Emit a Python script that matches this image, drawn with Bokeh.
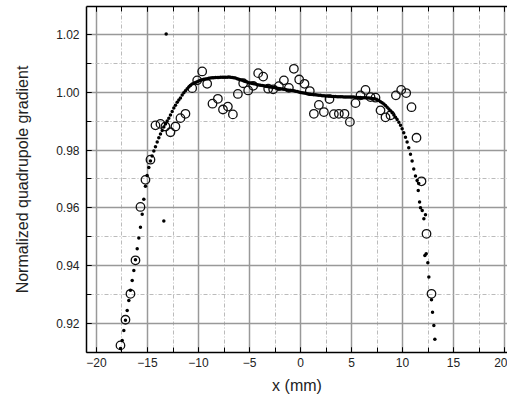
from bokeh.plotting import figure
from bokeh.models import (ColumnDataSource, SingleIntervalTicker, LinearAxis,
                          PrintfTickFormatter, Range1d, CustomJSTickFormatter)
from bokeh.embed import file_html
from bokeh.resources import INLINE

# measured (open circles)
meas_x = [-17.65, -17.16, -16.67, -16.18, -15.69, -15.20, -14.71, -14.22, -13.73, -13.24,
          -12.75, -12.26, -11.77, -11.28, -10.62, -10.13, -9.64, -9.15, -8.63, -8.10,
          -7.60, -7.12, -6.63, -6.14, -5.62, -5.13, -4.64, -4.15, -3.66, -3.17,
          -2.68, -2.12, -1.63, -1.14, -0.65, -0.13, 0.39, 0.91, 1.31, 1.80,
          2.29, 2.84, 3.27, 3.76, 4.31, 4.84, 5.39, 5.88, 6.37, 6.86,
          7.35, 7.84, 8.33, 8.82, 9.35, 9.87, 10.36, 10.88, 11.37, 11.86,
          12.35, 12.84]
meas_y = [0.9123, 0.9212, 0.9302, 0.9418, 0.9603, 0.9697, 0.9767, 0.9886, 0.9891, 0.9882,
          0.9862, 0.9882, 0.9911, 0.9926, 1.0015, 1.0042, 1.0073, 1.0030, 0.9961, 0.9978,
          0.9941, 0.9951, 0.9924, 0.9995, 1.0032, 1.0007, 1.0023, 1.0067, 1.0055, 1.0013,
          1.0011, 1.0022, 1.0042, 1.0016, 1.0082, 1.0045, 1.0030, 1.0005, 0.9926, 0.9957,
          0.9932, 0.9977, 0.9925, 0.9926, 0.9926, 0.9898, 0.9963, 0.9990, 1.0009, 0.9984,
          0.9982, 0.9938, 0.9914, 0.9921, 0.9990, 1.0009, 0.9998, 0.9949, 0.9843, 0.9692,
          0.9510, 0.9302]

# simulated (small dots)
sim_x = [-17.65, -17.48, -17.32, -17.16, -16.99, -16.83, -16.67, -16.50, -16.34, -16.18,
         -16.01, -15.85, -15.69, -15.52, -15.36, -15.20, -15.04, -14.87, -14.71, -14.55,
         -14.38, -14.22, -14.05, -13.89, -13.73, -13.56, -13.40, -13.24, -13.07, -12.91,
         -12.75, -12.58, -12.42, -12.26, -12.09, -11.93, -11.77, -11.60, -11.44, -11.28,
         -11.11, -10.95, -10.79, -10.62, -10.46, -10.30, -10.13, -9.97, -9.81, -9.64,
         -9.48, -9.32, -9.15, -8.99, -8.83, -8.66, -8.50, -8.34, -8.17, -8.01,
         -7.85, -7.68, -7.52, -7.36, -7.19, -7.03, -6.87, -6.70, -6.54, -6.38,
         -6.21, -6.05, -5.89, -5.72, -5.56, -5.40, -5.23, -5.07, -4.91, -4.74,
         -4.58, -4.42, -4.25, -4.09, -3.93, -3.76, -3.60, -3.44, -3.27, -3.11,
         -2.95, -2.78, -2.62, -2.46, -2.29, -2.13, -1.97, -1.80, -1.64, -1.48,
         -1.31, -1.15, -0.99, -0.82, -0.66, -0.50, -0.33, -0.17, 0.00, 0.16,
         0.33, 0.49, 0.65, 0.82, 0.98, 1.14, 1.31, 1.47, 1.63, 1.80,
         1.96, 2.12, 2.29, 2.45, 2.61, 2.78, 2.94, 3.10, 3.27, 3.43,
         3.59, 3.76, 3.92, 4.08, 4.25, 4.41, 4.57, 4.74, 4.90, 5.06,
         5.23, 5.39, 5.55, 5.72, 5.88, 6.04, 6.21, 6.37, 6.53, 6.70,
         6.86, 7.02, 7.19, 7.35, 7.51, 7.68, 7.84, 8.00, 8.17, 8.33,
         8.49, 8.66, 8.82, 8.98, 9.15, 9.31, 9.47, 9.64, 9.80, 9.96,
         10.12, 10.29, 10.45, 10.61, 10.78, 10.94, 11.10, 11.27, 11.43, 11.59,
         11.54, 11.67, 11.76, 11.93, 12.25, 12.09, 12.32, 12.19, 12.48, 12.58,
         12.84, 12.94, 13.07, 13.17, -13.17, -13.40]
sim_y = [0.9112, 0.9140, 0.9175, 0.9210, 0.9244, 0.9279, 0.9314, 0.9348, 0.9383, 0.9420,
         0.9458, 0.9495, 0.9533, 0.9578, 0.9630, 0.9675, 0.9712, 0.9740, 0.9762, 0.9780,
         0.9797, 0.9812, 0.9828, 0.9843, 0.9856, 0.9868, 0.9880, 0.9891, 0.9901, 0.9911,
         0.9922, 0.9934, 0.9946, 0.9956, 0.9966, 0.9974, 0.9981, 0.9991, 0.9999, 1.0006,
         1.0013, 1.0019, 1.0024, 1.0029, 1.0032, 1.0035, 1.0037, 1.0040, 1.0042, 1.0044,
         1.0046, 1.0047, 1.0048, 1.0049, 1.0050, 1.0051, 1.0051, 1.0052, 1.0052, 1.0052,
         1.0053, 1.0053, 1.0053, 1.0053, 1.0053, 1.0054, 1.0053, 1.0052, 1.0051, 1.0050,
         1.0048, 1.0046, 1.0044, 1.0042, 1.0040, 1.0038, 1.0036, 1.0034, 1.0033, 1.0031,
         1.0030, 1.0029, 1.0027, 1.0026, 1.0025, 1.0024, 1.0023, 1.0022, 1.0021, 1.0020,
         1.0019, 1.0018, 1.0017, 1.0016, 1.0015, 1.0014, 1.0013, 1.0012, 1.0011, 1.0010,
         1.0009, 1.0008, 1.0008, 1.0007, 1.0006, 1.0004, 1.0003, 1.0002, 1.0000, 0.9999,
         0.9998, 0.9997, 0.9996, 0.9995, 0.9994, 0.9993, 0.9992, 0.9992, 0.9991, 0.9990,
         0.9990, 0.9989, 0.9989, 0.9988, 0.9988, 0.9987, 0.9987, 0.9986, 0.9986, 0.9986,
         0.9985, 0.9985, 0.9985, 0.9985, 0.9984, 0.9984, 0.9984, 0.9984, 0.9984, 0.9984,
         0.9984, 0.9983, 0.9983, 0.9983, 0.9983, 0.9982, 0.9982, 0.9982, 0.9981, 0.9981,
         0.9980, 0.9979, 0.9978, 0.9977, 0.9975, 0.9972, 0.9968, 0.9964, 0.9960, 0.9955,
         0.9949, 0.9943, 0.9937, 0.9930, 0.9922, 0.9914, 0.9906, 0.9897, 0.9886, 0.9874,
         0.9860, 0.9845, 0.9828, 0.9808, 0.9786, 0.9762, 0.9735, 0.9710, 0.9695, 0.9684,
         0.9660, 0.9620, 0.9600, 0.9591, 0.9576, 0.9562, 0.9441, 0.9435, 0.9410, 0.9360,
         0.9281, 0.9238, 0.9192, 0.9144, 1.0203, 0.9554]

x_label = "x (mm)"
y_label = "Normalized quadrupole gradient"

FONT = "Liberation Sans"

p = figure(width=507, height=398, output_backend="svg", toolbar_location=None,
           x_range=Range1d(-20.98, 20.29), y_range=Range1d(0.90984, 1.02981),
           min_border_left=86, min_border_right=0, min_border_top=6, min_border_bottom=46,
           x_axis_label=x_label, y_axis_label=y_label)

p.background_fill_color = "white"
p.border_fill_color = "white"
p.outline_line_color = None

p.xaxis.ticker = SingleIntervalTicker(interval=5, num_minor_ticks=2)
p.yaxis.ticker = SingleIntervalTicker(interval=0.02, num_minor_ticks=2)
p.yaxis.formatter = PrintfTickFormatter(format="%.2f")

for ax in (p.xaxis[0], p.yaxis[0]):
    ax.axis_line_color = "black"
    ax.axis_line_width = 1.5
    ax.major_tick_in = 5
    ax.major_tick_out = 0
    ax.minor_tick_in = 5
    ax.minor_tick_out = 0
    ax.major_tick_line_color = "black"
    ax.minor_tick_line_color = "black"
    ax.major_label_text_font = FONT
    ax.major_label_text_font_size = "12px"
    ax.major_label_text_color = "#222222"
    ax.axis_label_text_font = FONT
    ax.axis_label_text_font_size = "16px"
    ax.axis_label_text_font_style = "normal"
    ax.axis_label_text_color = "#222222"

p.xaxis.major_label_standoff = 5
p.xaxis.axis_label_standoff = 7
p.yaxis.major_label_standoff = 7
p.yaxis.axis_label_standoff = 22

top = LinearAxis(ticker=SingleIntervalTicker(interval=5, num_minor_ticks=2),
                 formatter=CustomJSTickFormatter(code="return ''"),
                 axis_line_color="black",
                 axis_line_width=1.5, major_tick_in=5, major_tick_out=0,
                 minor_tick_in=5, minor_tick_out=0)
p.add_layout(top, "above")

p.xgrid.ticker = SingleIntervalTicker(interval=5, num_minor_ticks=2)
p.ygrid.ticker = SingleIntervalTicker(interval=0.02, num_minor_ticks=2)
for g in (p.xgrid[0], p.ygrid[0]):
    g.grid_line_color = "#999999"
    g.grid_line_width = 1.5
    g.minor_grid_line_color = "#bbbbbb"
    g.minor_grid_line_width = 1
    g.minor_grid_line_dash = "4 2 1 2"

src_m = ColumnDataSource(dict(x=meas_x, y=meas_y))
src_s = ColumnDataSource(dict(x=sim_x, y=sim_y))

p.scatter("x", "y", source=src_m, size=8.5, marker="circle", fill_alpha=0,
          line_color="#111111", line_width=1.3)
p.scatter("x", "y", source=src_s, size=3.5, marker="circle",
          fill_color="black", line_color="black", line_width=0)

open("out.html", "w").write(file_html(p, INLINE))
